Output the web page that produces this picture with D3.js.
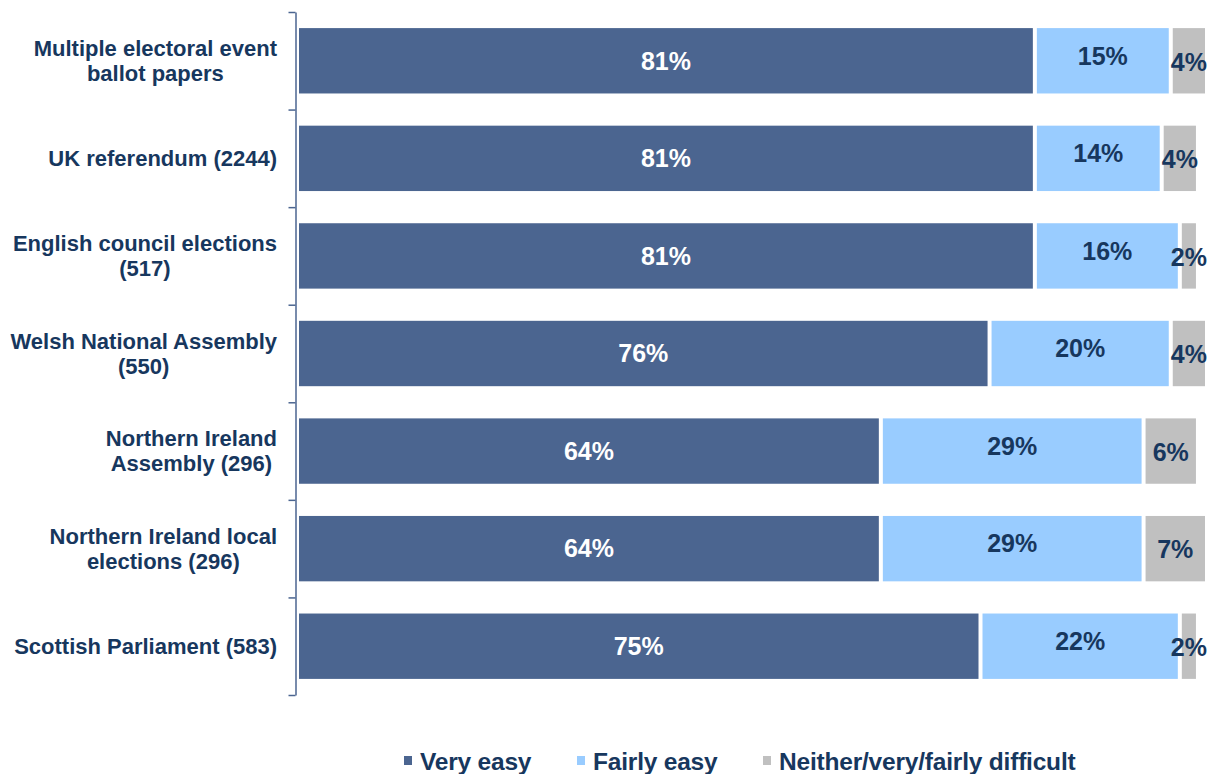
<!DOCTYPE html>
<html>
<head>
<meta charset="utf-8">
<script src="https://cdn.jsdelivr.net/npm/d3@7"></script>
<style>
  html, body { margin: 0; padding: 0; background: #ffffff; }
  svg { display: block; font-family: "Liberation Sans", Arial, sans-serif; font-weight: bold; }
</style>
</head>
<body>
<svg id="chart" width="1214" height="774"></svg>
<script>
// Categories (top to bottom), each split into display lines
const categories = [
  "Multiple electoral event\nballot papers",
  "UK referendum (2244)",
  "English council elections\n(517)",
  "Welsh National Assembly\n(550)",
  "Northern Ireland\nAssembly (296)",
  "Northern Ireland local\nelections (296)",
  "Scottish Parliament (583)"
];
const seriesNames = ["Very easy", "Fairly easy", "Neither/very/fairly difficult"];
const veryEasy      = [81, 81, 81, 76, 64, 64, 75];
const fairlyEasy    = [15, 14, 16, 20, 29, 29, 22];
const notEasy       = [4, 4, 2, 4, 6, 7, 2];

const colors = ["#4B6590", "#99CCFF", "#C0C0C0"];
const labelColors = ["#FFFFFF", "#17375E", "#17375E"];
const textColor = "#17375E";

const svg = d3.select("#chart");

const x = d3.scaleLinear().domain([0, 100]).range([299, 1205]);
const y = d3.scaleBand().domain(categories).range([12, 695])
  .paddingInner(0.33).paddingOuter(0.165);

// Axis with ticks at category boundaries
const yEdge = d3.scaleLinear().domain([0, categories.length]).range([12, 695]);
const axis = svg.append("g")
  .attr("transform", "translate(295.5,0)")
  .call(d3.axisLeft(yEdge).ticks(categories.length).tickFormat("").tickSize(7).tickSizeOuter(0));
axis.select(".domain").attr("stroke", "#4B6590").attr("stroke-width", 1.5);
axis.selectAll(".tick line").attr("stroke", "#4B6590").attr("stroke-width", 1.5);

// Stacked segments
const rows = categories.map((c, i) => {
  const vals = [veryEasy[i], fairlyEasy[i], notEasy[i]];
  let cum = 0;
  return vals.map((v, k) => {
    const seg = { cat: c, k, v, x0: cum, x1: cum + v };
    cum += v;
    return seg;
  });
});

const gap = 4;
const segs = rows.flat();
svg.append("g").selectAll("rect").data(segs).join("rect")
  .attr("x", d => x(d.x0) + (d.k > 0 ? gap : 0))
  .attr("y", d => y(d.cat))
  .attr("width", d => x(d.x1) - x(d.x0) - (d.k > 0 ? gap : 0))
  .attr("height", y.bandwidth())
  .attr("fill", d => colors[d.k]);

// Value labels
const labelDy = [0, -5, 1];
svg.append("g").selectAll("text").data(segs).join("text")
  .attr("x", d => (x(d.x0) + (d.k > 0 ? gap : 0) + x(d.x1)) / 2)
  .attr("y", d => y(d.cat) + y.bandwidth() / 2 + labelDy[d.k])
  .attr("dy", "0.35em")
  .attr("text-anchor", "middle")
  .attr("font-size", 25)
  .attr("fill", d => labelColors[d.k])
  .text(d => d.v + "%");

// Category labels: centred block, widest line right-aligned to the axis
const catG = svg.append("g");
categories.forEach(c => {
  const lines = c.split("\n");
  const lh = 25;
  const cy = y(c) + y.bandwidth() / 2;
  const texts = lines.map((ln, j) => catG.append("text")
    .attr("font-size", 22)
    .attr("fill", textColor)
    .attr("text-anchor", "middle")
    .attr("y", cy + (j - (lines.length - 1) / 2) * lh)
    .attr("dy", "0.35em")
    .text(ln));
  const w = d3.max(texts, t => t.node().getComputedTextLength());
  texts.forEach(t => t.attr("x", 277 - w / 2));
});

// Legend
const legendX = [404, 577, 763];
const legend = svg.append("g");
seriesNames.forEach((name, k) => {
  legend.append("rect")
    .attr("x", legendX[k]).attr("y", 756)
    .attr("width", 8).attr("height", 9)
    .attr("fill", colors[k]);
  legend.append("text")
    .attr("x", legendX[k] + 16).attr("y", 761)
    .attr("dy", "0.35em")
    .attr("font-size", 24.5)
    .attr("letter-spacing", -0.2)
    .attr("fill", textColor)
    .text(name);
});
</script>
</body>
</html>
